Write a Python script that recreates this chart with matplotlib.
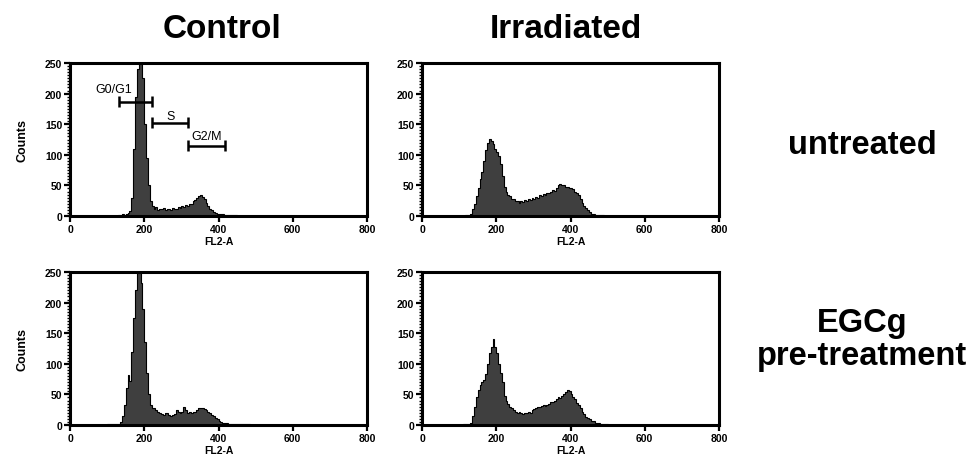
import numpy as np
import matplotlib
matplotlib.use("Agg")
import matplotlib.pyplot as plt
from matplotlib.ticker import MultipleLocator

# ---------------- data ----------------
bin_start = 100
bin_width = 5
x_range = (0, 800)

control_untreated = [
    0, 0, 0, 0, 0, 0, 2, 1, 3, 2,
    4, 5, 8, 30, 110, 195, 240, 250, 250, 225,
    150, 95, 50, 25, 16, 12, 14, 10, 12, 11,
    13, 10, 12, 11, 10, 13, 11, 12, 14, 13,
    16, 14, 18, 17, 20, 19, 24, 26, 30, 33,
    35, 31, 28, 22, 16, 12, 9, 7, 5, 4,
    4, 3, 3, 2, 2, 2, 1, 1, 1, 1,
    0, 0, 0, 0, 0, 0, 0, 0, 0, 0,
]
irradiated_untreated = [
    0, 0, 0, 1, 1, 2, 4, 12, 20, 32,
    45, 60, 72, 90, 108, 120, 126, 122, 118, 110,
    104, 98, 85, 65, 48, 40, 35, 32, 28, 27,
    25, 24, 22, 25, 23, 26, 24, 27, 26, 29,
    28, 31, 30, 34, 33, 36, 35, 38, 37, 40,
    42, 41, 46, 50, 53, 50, 51, 48, 47, 46,
    46, 44, 40, 37, 34, 28, 22, 17, 13, 9,
    6, 4, 3, 2, 2, 1, 1, 1, 0, 0,
]
control_egcg = [
    1, 1, 1, 1, 1, 2, 2, 5, 15, 32,
    60, 82, 72, 120, 175, 220, 248, 250, 232, 190,
    135, 85, 50, 33, 28, 28, 25, 22, 20, 18,
    17, 20, 19, 16, 15, 17, 18, 24, 22, 20,
    22, 29, 24, 20, 21, 20, 22, 21, 24, 28,
    27, 28, 26, 24, 22, 19, 16, 14, 11, 9,
    7, 5, 4, 3, 3, 2, 2, 1, 2, 1,
    1, 1, 1, 1, 1, 1, 1, 0, 0, 0,
]
irradiated_egcg = [
    0, 0, 1, 1, 1, 2, 4, 15, 30, 45,
    58, 66, 70, 74, 84, 100, 118, 128, 140, 128,
    118, 100, 85, 70, 48, 40, 35, 30, 27, 24,
    22, 20, 21, 19, 18, 20, 19, 21, 20, 24,
    26, 28, 30, 29, 31, 33, 31, 32, 35, 38,
    37, 40, 42, 45, 44, 48, 50, 54, 58, 55,
    50, 45, 42, 36, 33, 28, 22, 18, 13, 11,
    9, 7, 6, 4, 3, 3, 2, 1, 1, 1,
]

col_titles = ["Control", "Irradiated"]
row_titles = ["untreated", "EGCg\npre-treatment"]
x_ticks = [0, 200, 400, 600, 800]
y_ticks = [0, 50, 100, 150, 200, 250]
x_label = "FL2-A"
y_label = "Counts"

gate_names = ["G0/G1", "S", "G2/M"]
gate_lo = [133, 222, 318]
gate_hi = [222, 318, 418]
gate_level = [187, 152, 115]
gate_label_x = [119, 270, 369]
gate_label_y = [207, 164, 130]

panels = [[control_untreated, irradiated_untreated],
          [control_egcg, irradiated_egcg]]

# ---------------- figure ----------------
narrow = ["Liberation Sans Narrow", "Liberation Sans", "DejaVu Sans"]
sans = ["Liberation Sans", "DejaVu Sans"]

fig = plt.figure(figsize=(9.74, 4.60), dpi=100)

lefts = [70 / 974, 422 / 974]
bottoms = [1 - 217 / 460, 1 - 426 / 460]
w = 297 / 974
h = 153 / 460

fill_col = "#3f3f3f"

axes = {}
for r in range(2):
    for c in range(2):
        ax = fig.add_axes([lefts[c], bottoms[r], w, h])
        axes[(r, c)] = ax
        vals = np.array(panels[r][c], dtype=float)
        edges = bin_start + bin_width * np.arange(len(vals) + 1)
        ax.stairs(vals, edges, fill=True, color=fill_col, zorder=2)
        ax.stairs(vals, edges, color="black", lw=0.8, zorder=3)
        ax.set_xlim(*x_range)
        ax.set_ylim(0, 250)
        ax.set_xticks(x_ticks)
        ax.set_yticks(y_ticks)
        ax.yaxis.set_minor_locator(MultipleLocator(5))
        for s in ax.spines.values():
            s.set_linewidth(2.2)
            s.set_color("black")
        ax.tick_params(axis="both", which="major", direction="out", length=4,
                       width=1.6, pad=1.5, colors="black")
        ax.tick_params(axis="y", which="minor", direction="out", length=2.2,
                       width=1.0)
        for lab in ax.get_xticklabels() + ax.get_yticklabels():
            lab.set_fontfamily(narrow)
            lab.set_fontweight("bold")
            lab.set_fontsize(7.5)
        ax.set_xlabel(x_label, fontsize=7.5, fontweight="bold",
                      family=narrow, labelpad=2)
        if c == 0:
            ax.set_ylabel(y_label, fontsize=9, fontweight="bold",
                          family=sans, labelpad=12)

# gates on control untreated
ax = axes[(0, 0)]
for name, lo, hi, lev, lx, ly in zip(gate_names, gate_lo, gate_hi, gate_level,
                                     gate_label_x, gate_label_y):
    ax.plot([lo, hi], [lev, lev], color="black", lw=1.8, zorder=5,
            solid_capstyle="butt")
    for xx in (lo, hi):
        ax.plot([xx, xx], [lev - 9, lev + 9], color="black", lw=1.8, zorder=5,
                solid_capstyle="butt")
    ax.text(lx, ly, name, ha="center", va="center",
            fontsize=9, family=sans, zorder=6)

# column titles
col_x = [222 / 974, 566 / 974]
for t, xx in zip(col_titles, col_x):
    fig.text(xx, 1 - 29 / 460, t, ha="center", va="center", fontsize=24,
             fontweight="bold", family=sans)

# row titles
row_y = [1 - 145 / 460, 1 - 340 / 460]
for t, yy in zip(row_titles, row_y):
    fig.text(862 / 974, yy, t, ha="center", va="center", fontsize=23.5,
             fontweight="bold", family=sans, linespacing=1.05)

fig.savefig("out.png", dpi=100)
